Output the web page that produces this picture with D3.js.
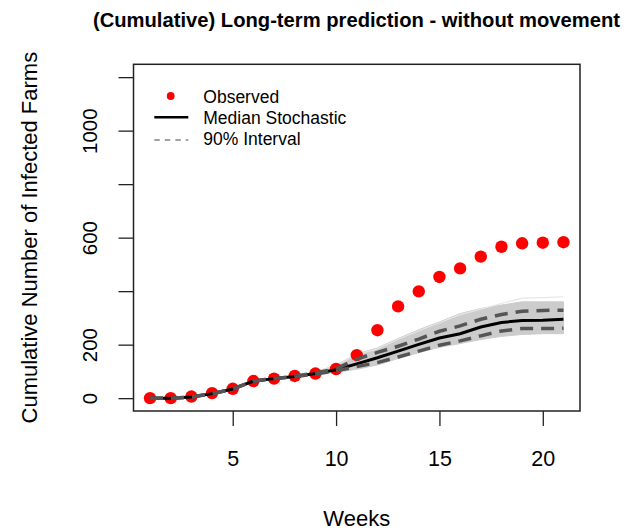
<!DOCTYPE html>
<html>
<head>
<meta charset="utf-8">
<script src="https://cdn.jsdelivr.net/npm/d3@7"></script>
<style>
  html, body { margin: 0; padding: 0; background: #fff; }
  svg { display: block; font-family: "Liberation Sans", Arial, sans-serif; }
</style>
</head>
<body>
<svg id="chart" width="639" height="531"></svg>
<script>
const weeks     = [1,2,3,4,5,6,7,8,9,10,11,12,13,14,15,16,17,18,19,20,21];
const observed  = [0,0,6,19,35,64,73,83,92,109,161,254,343,399,453,485,529,566,579,581,583];
const median    = [0,0,4,17,34,64,73,81,92,106,128,151,176,201,225,241,266,283,290,291,295];
const lower90   = [0,0,4,17,34,64,73,80,90,102,118,133,154,176,198,214,233,251,260,260,261];
const upper90   = [0,0,4,17,34,64,73,82,94,110,146,171,194,221,250,270,295,313,325,328,329];
const bandLow   = [0,0,3,16,33,63,72,79,87,97,108,124,148,170,190,204,219,231,238,241,241];
const bandHigh  = [0,0,5,18,35,65,74,84,98,124,165,188,223,256,285,316,335,348,360,360,360];
const outlierSim= [0,0,5,18,35,65,74,84,97,122,162,185,220,252,282,312,333,354,374,376,379];
const xTicks = [5,10,15,20];
const yTicks = [0,200,400,600,800,1000,1200];
const yLabels = [0,200,600,1000];
const titleText = "(Cumulative) Long-term prediction - without movement";
const xTitle = "Weeks";
const yTitle = "Cumulative Number of Infected Farms";
const legendLabels = ["Observed", "Median Stochastic", "90% Interval"];

const svg = d3.select("#chart");
const L = 133.5, R = 580, T = 64.3, B = 411;
const x = d3.scaleLinear().domain([0.2, 21.8]).range([L, R]);
const y = d3.scaleLinear().domain([-48, 1248]).range([B, T]);

svg.append("defs").append("clipPath").attr("id","clip")
  .append("rect").attr("x",L).attr("y",T).attr("width",R-L).attr("height",B-T);
const plot = svg.append("g").attr("clip-path","url(#clip)");

// band
const area = d3.area().x((d,i)=>x(weeks[i])).y0((d,i)=>y(bandLow[i])).y1((d,i)=>y(bandHigh[i]));
plot.append("path").datum(weeks).attr("d", area).attr("fill","#cccccc").attr("stroke","#cccccc").attr("stroke-width",1);

const line = arr => d3.line().x((d,i)=>x(weeks[i])).y((d,i)=>y(arr[i]))(weeks);
plot.append("path").attr("d", line(outlierSim)).attr("fill","none").attr("stroke","#e6e6e6").attr("stroke-width",1.2);

// observed points
plot.selectAll("circle.obs").data(weeks).enter().append("circle")
  .attr("class","obs").attr("cx",(d,i)=>x(weeks[i])).attr("cy",(d,i)=>y(observed[i]))
  .attr("r",6.2).attr("fill","#ff0000");

// median
plot.append("path").attr("d", line(median)).attr("fill","none").attr("stroke","#000").attr("stroke-width",3);
// interval
[lower90, upper90].forEach(arr => {
  plot.append("path").attr("d", line(arr)).attr("fill","none").attr("stroke","#555")
    .attr("stroke-width",3.5).attr("stroke-dasharray","13,8");
});

// box
svg.append("rect").attr("x",L).attr("y",T).attr("width",R-L).attr("height",B-T)
  .attr("fill","none").attr("stroke","#222").attr("stroke-width",1.5);

// x axis
const xa = svg.append("g").attr("transform",`translate(0,${B})`)
  .call(d3.axisBottom(x).tickValues(xTicks).tickSize(15).tickFormat(d3.format("d")));
xa.select(".domain").remove();
xa.selectAll("line").attr("stroke","#222").attr("stroke-width",1.3);
xa.selectAll("text").attr("y",55).attr("dy",null).attr("fill","#000")
  .style("font-size","21.5px").style("font-family",'"Liberation Sans", Arial, sans-serif');

// y axis
const ya = svg.append("g").attr("transform",`translate(${L},0)`)
  .call(d3.axisLeft(y).tickValues(yTicks).tickSize(15).tickFormat(d => yLabels.includes(d) ? String(d) : ""));
ya.select(".domain").remove();
ya.selectAll("line").attr("stroke","#222").attr("stroke-width",1.3);
ya.selectAll("text").attr("x",null).attr("dy",null)
  .attr("transform","translate(-37,0) rotate(-90)").attr("text-anchor","middle").attr("fill","#000")
  .style("font-size","20.5px").style("font-family",'"Liberation Sans", Arial, sans-serif');

// titles
svg.append("text").attr("x",356.5).attr("y",27).attr("text-anchor","middle")
  .style("font-weight","bold").style("font-size","20.2px").text(titleText);
svg.append("text").attr("x",(L+R)/2).attr("y",526).attr("text-anchor","middle")
  .style("font-size","22px").text(xTitle);
svg.append("text").attr("transform",`translate(37,${(T+B)/2}) rotate(-90)`).attr("text-anchor","middle")
  .style("font-size","22px").text(yTitle);

// legend
const lg = svg.append("g");
lg.append("circle").attr("cx",170.7).attr("cy",96).attr("r",3.9).attr("fill","#ff0000");
lg.append("line").attr("x1",154.3).attr("x2",188.3).attr("y1",117.3).attr("y2",117.3)
  .attr("stroke","#000").attr("stroke-width",2.6);
lg.append("line").attr("x1",154.3).attr("x2",188.3).attr("y1",140).attr("y2",140)
  .attr("stroke","#444").attr("stroke-width",1).attr("stroke-dasharray","5.5,5");
const lgY = [102.7, 124.3, 145];
lg.selectAll("text").data(legendLabels).enter().append("text")
  .attr("x",203.3).attr("y",(d,i)=>lgY[i]).style("font-size","17.5px").text(d=>d);
</script>
</body>
</html>
